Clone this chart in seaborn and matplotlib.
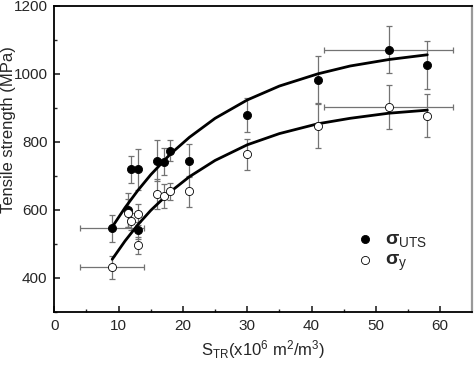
import numpy as np
import pandas as pd
import matplotlib
matplotlib.use('Agg')
import matplotlib.pyplot as plt
import seaborn as sns

# data
s_tr = [9, 11.5, 12, 13, 13, 16, 17, 18, 21, 30, 41, 52, 58]
s_tr_err = [5, 0, 0, 0, 0, 0, 0, 0, 0, 0, 0, 10, 0]

uts = [545, 600, 719, 719, 540, 744, 741, 774, 744, 880, 983, 1071, 1026]
uts_err = [40, 50, 40, 60, 25, 60, 40, 30, 48, 50, 70, 70, 70]

ys = [430, 590, 566, 586, 495, 646, 641, 654, 654, 763, 847, 903, 877]
ys_err = [35, 40, 25, 30, 25, 45, 35, 25, 45, 45, 65, 65, 63]

# fitted curves
fit_x = [9, 11, 13, 15, 18, 21, 25, 30, 35, 41, 46, 52, 58]
fit_uts = [549, 606, 657, 703, 763, 813, 869, 923, 964, 1000, 1023, 1042, 1056]
fit_ys = [454, 508, 556, 598, 652, 697, 745, 791, 824, 853, 869, 884, 893]

df = pd.DataFrame({'s': s_tr, 'uts': uts, 'ys': ys})
fit = pd.DataFrame({'s': fit_x, 'uts': fit_uts, 'ys': fit_ys})

sns.set_style('ticks')
plt.rcParams['font.family'] = ['Liberation Sans', 'DejaVu Sans']
plt.rcParams['mathtext.fontset'] = 'custom'
plt.rcParams['mathtext.rm'] = 'Liberation Sans'
plt.rcParams['mathtext.it'] = 'Liberation Sans'
plt.rcParams['mathtext.bf'] = 'Liberation Sans:bold'

fig = plt.figure(figsize=(4.74, 3.67), dpi=100)
ax = fig.add_axes([0.1146, 0.151, 0.8819, 0.833])

xe = [e if e > 0 else np.nan for e in s_tr_err]
ax.errorbar(s_tr, uts, yerr=uts_err, xerr=xe, fmt='none', ecolor='0.45',
            elinewidth=0.9, capsize=2.5, capthick=0.9, zorder=1)
ax.errorbar(s_tr, ys, yerr=ys_err, xerr=xe, fmt='none', ecolor='0.45',
            elinewidth=0.9, capsize=2.5, capthick=0.9, zorder=1)

sns.lineplot(data=fit, x='s', y='uts', color='black', lw=2, ax=ax, zorder=2)
sns.lineplot(data=fit, x='s', y='ys', color='black', lw=2, ax=ax, zorder=2)

sns.scatterplot(data=df, x='s', y='uts', color='black', edgecolor='black',
                s=34, linewidth=0.6, ax=ax, zorder=3,
                label=r'$\mathbf{\sigma}_{\mathrm{UTS}}$')
sns.scatterplot(data=df, x='s', y='ys', color='white', edgecolor='black',
                s=34, linewidth=0.6, ax=ax, zorder=3,
                label=r'$\mathbf{\sigma}_{\mathrm{y}}$')

ax.set_xlim(0, 65)
ax.set_ylim(300, 1200)
ax.set_xticks([0, 10, 20, 30, 40, 50, 60])
ax.set_xticks(np.arange(5, 65, 10), minor=True)
ax.set_yticks([400, 600, 800, 1000, 1200])
ax.set_yticks([300, 500, 700, 900, 1100], minor=True)
ax.tick_params(axis='both', which='major', direction='in', length=4,
               width=1.2, labelsize=11, pad=5)
ax.tick_params(axis='both', which='minor', direction='in', length=2.5,
               width=1.0)
for side in ['left', 'bottom', 'top']:
    ax.spines[side].set_linewidth(1.3)
    ax.spines[side].set_color('black')
ax.spines['right'].set_linewidth(1.6)
ax.spines['right'].set_color('0.6')

ax.set_xlabel(r'S$_{\mathrm{TR}}$(x10$^{6}$ m$^{2}$/m$^{3}$)', fontsize=12,
              labelpad=4)
ax.set_ylabel('Tensile strength (MPa)', fontsize=12)
ax.yaxis.set_label_coords(-0.092, 0.594)

leg = ax.legend(loc='upper left', bbox_to_anchor=(0.674, 0.323), frameon=False,
                fontsize=14, handletextpad=0.4, labelspacing=0.15,
                handlelength=1.2)

fig.savefig('out.png', dpi=100)
